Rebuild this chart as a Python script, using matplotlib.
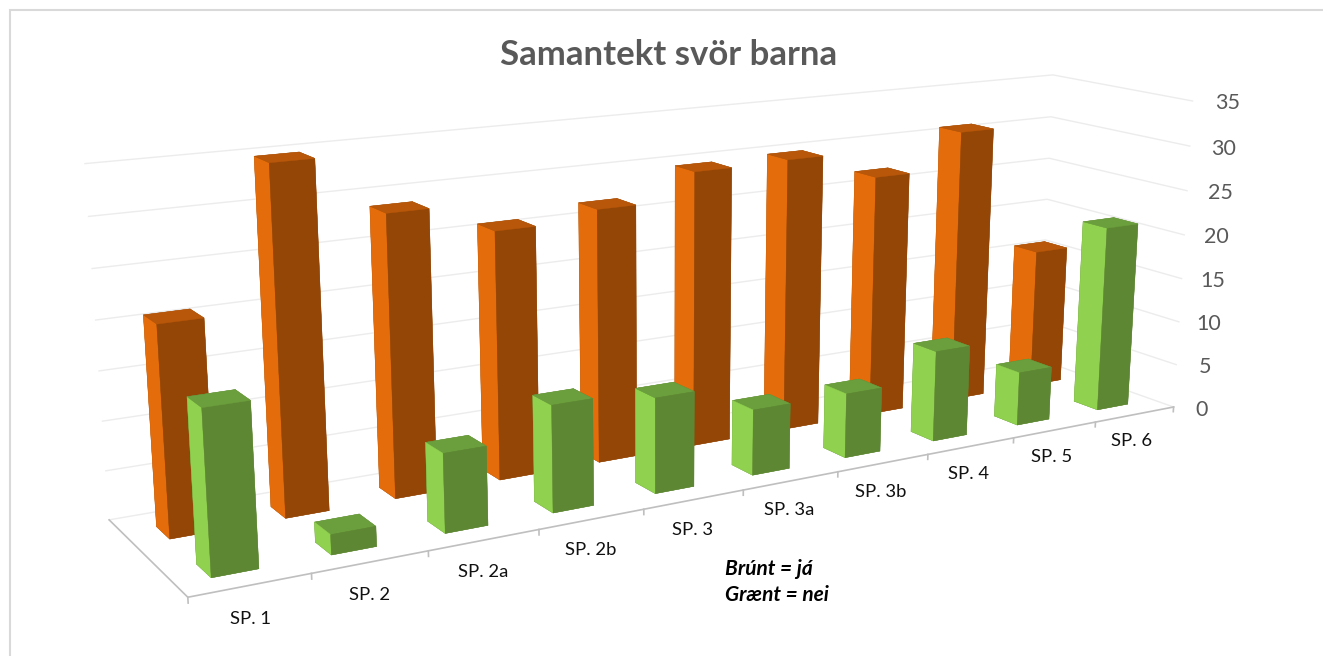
import numpy as np
import matplotlib
matplotlib.use("Agg")
import matplotlib.pyplot as plt
from matplotlib.patches import Rectangle

W, H = 1323, 656

################################### Data: ######################################
categories = ["SP. 1", "SP. 2", "SP. 2a", "SP. 2b", "SP. 3", "SP. 3a", "SP. 3b", "SP. 4", "SP. 5", "SP. 6"]
ja_values = [21, 35, 29, 26, 27, 29.8, 30, 27, 31, 16]
nei_values = [16, 2, 8, 11, 10, 7, 7, 10, 6, 21]
value_ticks = [0, 5, 10, 15, 20, 25, 30, 35]

orange_faces = {"left": "#E46C0A", "front": "#944606", "top": "#B85709"}
green_faces = {"left": "#90D24F", "front": "#5E8733", "top": "#6B9E3D"}
grid_color = "#ECECEC"
edge_color = "#BFBFBF"

# camera: (category, depth, value) -> picture pixel, from the corners of the walls
world = np.array([(0, 0, 0), (10, 0, 0), (0, 2, 0), (0, 2, 35), (10, 2, 35), (10, 0, 35),
                  (10, 2, 20), (10, 0, 20), (0, 2, 5), (10, 0, 5)], float)
pixel = np.array([(187.7, 597), (1172.7, 406.7), (109, 520), (85, 163.5), (1052, 75), (1193, 101),
                  (1048, 199), (1184, 235), (106, 471), (1177, 365)], float)


def fit_camera(world, pixel):
    rows = []
    for (x, y, z), (u, v) in zip(world, pixel):
        v = H - v
        rows.append([x, y, z, 1, 0, 0, 0, 0, -u * x, -u * y, -u * z, -u])
        rows.append([0, 0, 0, 0, x, y, z, 1, -v * x, -v * y, -v * z, -v])
    P = np.linalg.svd(np.array(rows))[2][-1].reshape(3, 4)
    # w positive in front of the camera
    if P[2] @ [0, 0, 0, 1] < 0:
        P = -P
    return P


P = fit_camera(world, pixel)


def to_pixel(x, y, z):
    u, v, w = P @ [x, y, z, 1]
    return u / w, v / w


################################### Plotting: ##################################
fig = plt.figure(figsize=(W / 100, H / 100), dpi=100)
plt.rcParams["font.family"] = ["Lato", "DejaVu Sans"]

# mplot3d forces a square box, so make the square as wide as the figure
ax = fig.add_axes([0, 0.5 - W / H / 2, 1, W / H], projection="3d", computed_zorder=False)
ax.set_axis_off()


def get_proj():
    to_data = ax.transData.inverted().get_matrix()
    Q = to_data @ P
    return np.array([Q[0], Q[1], [0, 0, 0, -1], Q[2]])


ax.get_proj = get_proj

# walls
for v in value_ticks:
    ax.plot([0, 10, 10], [2, 2, 0], [v, v, v], color=grid_color, lw=1.0, zorder=1)

# floor edges and ticks
ax.plot([0, 0, 10], [2, 0, 0], [0, 0, 0], color=edge_color, lw=1.2, zorder=2)
for i in range(len(categories) + 1):
    ax.plot([i, i], [0, 0], [0, -0.55], color=edge_color, lw=1.2, zorder=2)


def add_bars(values, depth, faces, zorder):
    # right to left, the camera stands left of every bar
    for i in range(len(values) - 1, -1, -1):
        colors = [faces["front"], faces["top"], faces["front"], faces["front"], faces["left"], faces["front"]]
        ax.bar3d(i + 0.29, depth + 0.3, 0, 0.39, 0.34, values[i], color=colors, shade=False,
                 linewidth=0.3, edgecolor=colors, zorder=zorder + len(values) - i)


add_bars(ja_values, 1, orange_faces, 10)
add_bars(nei_values, 0, green_faces, 30)

# labels are plain figure text at the projected spot
for i, name in enumerate(categories):
    u, v = to_pixel(i + 0.5, 0, -3.3)
    fig.text((u - 2) / W, (v + 1) / H, name, ha="center", va="center", fontsize=13.3, color="#111111")

for tick in value_ticks:
    u, v = to_pixel(10, 0, tick)
    fig.text((u + 28 + 0.2 * tick) / W, (v - 2.5) / H, str(tick), ha="center", va="center",
             fontsize=15.5, color="#595959")

fig.text(669 / W, 1 - 55 / H, "Samantekt svör barna", ha="center", va="center",
         fontsize=25, fontweight="bold", color="#595959")
fig.text(725 / W, 1 - 569 / H, "Brúnt = já", ha="left", va="center", fontsize=15,
         fontweight="bold", fontstyle="italic", color="black")
fig.text(725 / W, 1 - 595 / H, "Grænt = nei", ha="left", va="center", fontsize=15,
         fontweight="bold", fontstyle="italic", color="black")

# chart frame
fig.add_artist(Rectangle((10 / W, -0.1), 2, 1.1 - 10 / H, transform=fig.transFigure, fill=False,
                         edgecolor="#D9D9D9", lw=1.5))

fig.savefig("out.png", dpi=100)
